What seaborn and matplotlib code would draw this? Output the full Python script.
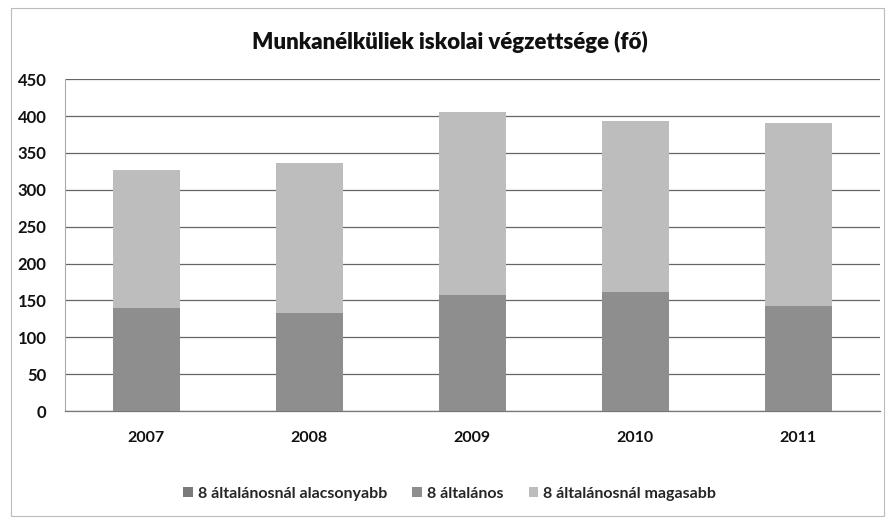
import matplotlib
matplotlib.use("Agg")
import matplotlib.pyplot as plt
import seaborn as sns
import pandas as pd
import numpy as np
from matplotlib.patches import Patch, Rectangle

years = ["2007", "2008", "2009", "2010", "2011"]
alacsonyabb = [0, 0, 0, 0, 0]
altalanos = [140, 133, 157, 161, 143]
magasabb = [187, 203, 248, 232, 248]
series_names = ["8 általánosnál alacsonyabb", "8 általános", "8 általánosnál magasabb"]
title = "Munkanélküliek iskolai végzettsége (fő)"
yticks = [0, 50, 100, 150, 200, 250, 300, 350, 400, 450]

sns.set_style("white")
plt.rcParams['font.family'] = ['Lato', 'DejaVu Sans']

c1, c2, c3 = "#7a7a7a", "#8e8e8e", "#bdbdbd"

df = pd.DataFrame({"year": years, "s1": alacsonyabb, "s2": altalanos, "s3": magasabb})
df["c12"] = df["s1"] + df["s2"]
df["c123"] = df["c12"] + df["s3"]

fig = plt.figure(figsize=(8.87, 5.21), dpi=100)
ax = fig.add_axes([0.073, 0.211, 0.919, 0.637])

for col, c in (("c123", c3), ("c12", c2), ("s1", c1)):
    sns.barplot(data=df, x="year", y=col, color=c, saturation=1, width=0.41,
                linewidth=0, edgecolor="none", ax=ax, zorder=3)

ax.set_ylim(0, 450)
ax.set_yticks(yticks)
ax.set_yticklabels([str(t) for t in yticks], fontsize=12, fontweight="bold", color="#111111")
ax.set_xlim(-0.5, 4.5)
ax.set_xlabel("")
ax.set_ylabel("")
ax.tick_params(axis="x", labelsize=11.5, pad=14, length=0, labelcolor="#111111")
for lbl in ax.get_xticklabels():
    lbl.set_fontweight("bold")
ax.tick_params(axis="y", length=5, width=0.8, color="#888888", pad=8, direction="out")
ax.yaxis.grid(True, color="#666666", linewidth=0.9, zorder=0)
ax.set_axisbelow(True)
for side in ["top", "right"]:
    ax.spines[side].set_visible(False)
ax.spines["left"].set_color("#aaaaaa")
ax.spines["left"].set_linewidth(0.8)
ax.spines["bottom"].set_color("#777777")
ax.spines["bottom"].set_linewidth(0.9)

fig.text(0.507, 0.919, title, ha="center", va="center", fontsize=16, fontweight="heavy", color="#111111")

handles = [Patch(facecolor=c, edgecolor="none") for c in (c1, c2, c3)]
fig.legend(handles, series_names, loc="center", bbox_to_anchor=(0.507, 0.052), ncol=3,
           frameon=False, prop={"size": 11.5, "weight": "bold"}, handlelength=0.6, handleheight=0.6,
           handletextpad=0.3, columnspacing=1.6)

fig.add_artist(Rectangle((0.012, 0.01), 0.985, 0.975, transform=fig.transFigure,
                         fill=False, edgecolor="#bbbbbb", linewidth=0.8))

fig.savefig("out.png", dpi=100)
